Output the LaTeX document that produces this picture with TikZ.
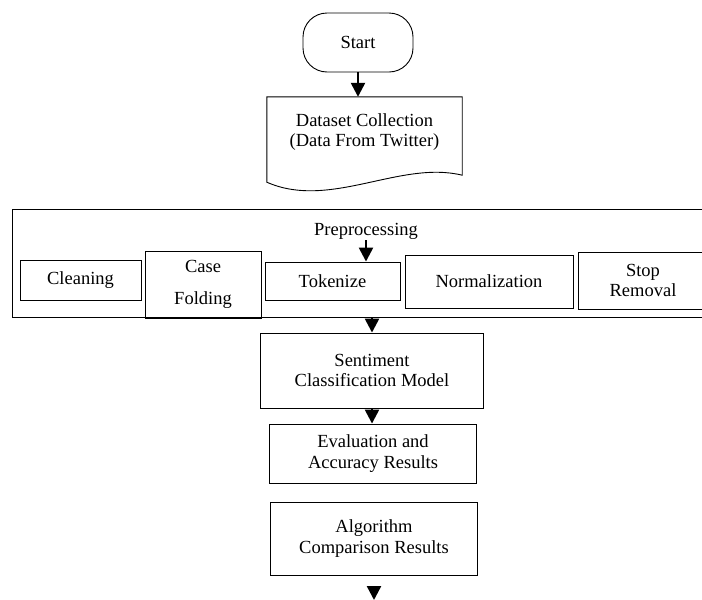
\documentclass[tikz,border=0pt]{standalone}
\usepackage{fontspec}
\setmainfont{Liberation Serif}
\usetikzlibrary{arrows.meta}

\begin{document}
\begin{tikzpicture}[x=1pt,y=-1pt,
    txt/.style={font=\fontsize{18.5}{20.5}\selectfont, align=center},
    box/.style={txt, draw, line width=0.9pt, inner sep=0pt},
    arr/.style={-{Triangle[width=14pt,length=14pt]}, line width=2.4pt}]
\useasboundingbox (0,0) rectangle (702,600);
\clip (0,0) rectangle (702,600);

\node[box, rounded corners=24pt, minimum width=110pt, minimum height=59pt] (start) at (358,42.5) {Start};

% document shape
\node[txt, minimum width=195pt, minimum height=70pt, inner sep=0pt] (data) at (364.5,132)
    {Dataset Collection\\(Data From Twitter)};
\draw[line width=0.9pt] (data.north west) -- (data.north east)
    -- ([yshift=-8pt]data.south east) .. controls (400,160) and (330,210)
    .. ([yshift=-15pt]data.south west) -- cycle;

\draw[arr] (start.south) -- (start.south |- data.north);

% preprocessing block
\node[box, minimum width=718pt, minimum height=108pt] (prep) at (371,263) {};
\node[txt, inner sep=1pt] (pretxt) at (366,231) {Preprocessing};

\node[box, minimum width=121pt, minimum height=40pt] (clean) at (80.5,280) {Cleaning};
\node[box, minimum width=116pt, minimum height=67pt] (fold) at (203,284.5) {Case\\[12pt]Folding};
\node[box, minimum width=135pt, minimum height=38pt] (tok) at (332.5,281) {Tokenize};
\node[box, minimum width=168pt, minimum height=53pt] (norm) at (489,281.5) {Normalization};
\node[box, minimum width=130pt, minimum height=57pt] (stop) at (643,280.5) {Stop\\Removal};

\draw[arr] (pretxt.south) -- (pretxt.south |- tok.north);

\node[box, minimum width=223pt, minimum height=75pt] (senti) at (372,370.5) {Sentiment\\Classification Model};
\node[box, minimum width=207pt, minimum height=59pt] (eval) at (373,453.5) {Evaluation and\\Accuracy Results};
\node[box, minimum width=207pt, minimum height=73pt] (algo) at (374,538.5) {Algorithm\\Comparison Results};

\draw[arr] (prep.south -| senti.north) -- (senti.north);
\draw[arr] (senti.south) -- (senti.south |- eval.north);

\coordinate (tip) at (374,600);
\draw[arr] ([yshift=-12pt]algo.south) -- (tip);

\end{tikzpicture}
\end{document}
